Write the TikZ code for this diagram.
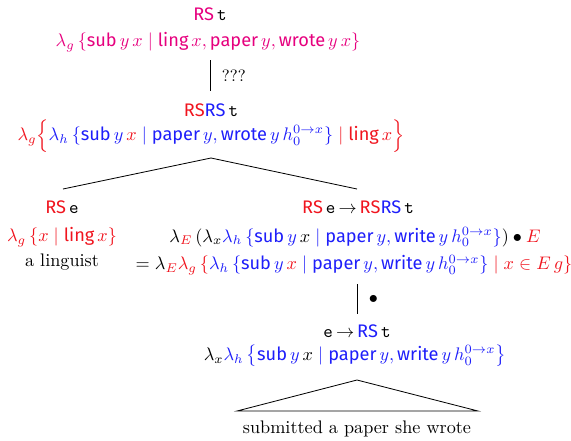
\documentclass[tikz,border=0pt]{standalone}
\usepackage{fontspec}
\setsansfont{Fira Sans}[Scale=1.0]
\usetikzlibrary{calc}
\definecolor{pinkc}{RGB}{230,0,126}
\definecolor{redc}{RGB}{240,20,30}
\definecolor{bluec}{RGB}{30,30,250}
\newcommand{\ws}[1]{\textsf{#1}}
\newcommand{\rsc}{\textcolor{redc}{\textsf{RS}}}
\newcommand{\bsc}{\textcolor{bluec}{\textsf{RS}}}
\begin{document}
\begin{tikzpicture}[x=0.55pt,y=-0.55pt,
  lbl/.style={inner sep=0pt,anchor=center},
  edge/.style={line width=0.45pt}]
\useasboundingbox (0,0) rectangle (571,440);
% top
\node[lbl] (t1) at (210,14) {\textcolor{pinkc}{\ws{RS}}\,\texttt{t}};
\node[lbl] (t2) at (208,42) {\color{pinkc}$\lambda_g\,\{\ws{sub}\,y\,x \mid \ws{ling}\,x, \ws{paper}\,y, \ws{wrote}\,y\,x\}$};
\coordinate (v1a) at (210,60);
\coordinate (v1b) at (210,91);
\draw[edge] (v1a) -- (v1b) node[midway,right=3pt,font=\small] {???};
% second
\node[lbl] (m1) at (211,110) {\rsc\bsc\,\texttt{t}};
\node[lbl] (m2) at (211,136) {$\color{redc}\lambda_g\Bigl\{\color{bluec}\lambda_h\,\{\ws{sub}\,y\,{\color{redc}x}\;|\;\ws{paper}\,y, \ws{wrote}\,y\,h_0^{0\to x}\}\;\color{redc}|\;\ws{ling}\,x\Bigr\}$};
% branches
\coordinate (ap) at (211,158);
\coordinate (bl) at (63,189);
\coordinate (br) at (357,189);
\draw[edge] (bl) -- (ap) -- (br);
% left
\node[lbl] (l1) at (62,207) {\rsc\,\texttt{e}};
\node[lbl] (l2) at (62,237) {\color{redc}$\lambda_g\,\{x \mid \ws{ling}\,x\}$};
\node[lbl] (l3) at (62,262) {a linguist};
% right
\node[lbl] (r1) at (358,207) {\rsc\,\texttt{e}\,$\to$\,\rsc\bsc\,\texttt{t}};
\node[lbl] (r2) at (355,237) {$\lambda_{\color{redc}E}\,(\lambda_x{\color{bluec}\lambda_h\,\{\ws{sub}\,y}\,x\;{\color{bluec}|\;\ws{paper}\,y, \ws{write}\,y\,h_0^{0\to x}\}})\bullet{\color{redc}E}$};
\node[lbl] (r3) at (354,265) {$=\lambda_{\color{redc}E}{\color{redc}\lambda_g\,\{}{\color{bluec}\lambda_h\,\{\ws{sub}\,y\,{\color{redc}x}\;|\;\ws{paper}\,y, \ws{write}\,y\,h_0^{0\to x}\}}\;{\color{redc}|\;x\in E\,g\}}$};
\coordinate (v2a) at (357,284);
\coordinate (v2b) at (357,314);
\draw[edge] (v2a) -- (v2b) node[midway,right=3pt] {$\bullet$};
\node[lbl] (b1) at (357,331) {\texttt{e}\,$\to$\,\bsc\,\texttt{t}};
\node[lbl] (b2) at (355,356) {$\lambda_x{\color{bluec}\lambda_h\,\bigl\{\ws{sub}\,y}\,x\;{\color{bluec}|\;\ws{paper}\,y, \ws{write}\,y\,h_0^{0\to x}\bigr\}}$};
% triangle
\coordinate (ta) at (357,380);
\coordinate (tl) at (237,411);
\coordinate (tr) at (478,411);
\draw[edge] (tl) -- (ta) -- (tr) -- cycle;
\node[lbl] (b3) at (357,429) {submitted a paper she wrote};
\end{tikzpicture}
\end{document}
